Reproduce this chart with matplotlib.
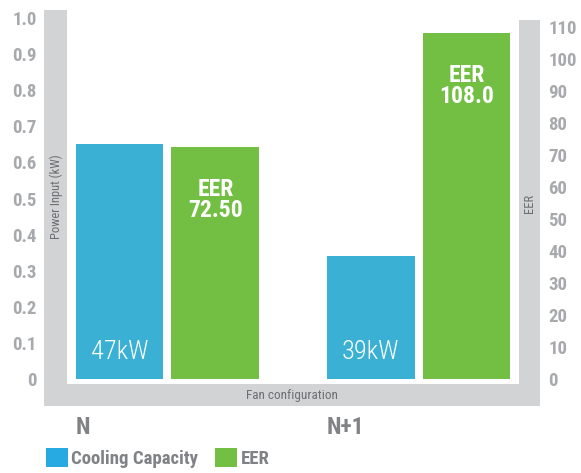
import matplotlib
matplotlib.use("Agg")
import matplotlib.pyplot as plt
import matplotlib.patches as mpatches
import matplotlib.transforms as mtransforms
import numpy as np

plt.rcParams['font.family'] = ['Roboto Condensed', 'Liberation Sans Narrow',
                               'Roboto', 'DejaVu Sans']

# -----------------------------
# Data
# -----------------------------
configs = ["N", "N+1"]
power_input = [0.65, 0.34]          # kW (left axis)
cooling_labels = ["47kW", "39kW"]
eer = [72.50, 108.0]                 # right axis
eer_labels = ["72.50", "108.0"]

left_ticks = np.round(np.arange(0, 1.01, 0.1), 1)
left_ticklabels = ["0"] + [f"{v:.1f}" for v in left_ticks[1:]]
right_ticks = np.arange(0, 111, 10)

# -----------------------------
# Colours
# -----------------------------
BLUE = "#3ab0d4"
BLUE_LEG = "#27a9e1"
GREEN = "#72bf44"
FRAME = "#d1d3d4"
TICK = "#a7a9ac"
DARK = "#808285"
LABEL = "#6d6e71"

W, H = 581, 473
fig = plt.figure(figsize=(W / 100, H / 100), dpi=100)


def fx(px):
    return px / W


def fy(py):
    return 1 - py / H


# grey frame around the plot
for x0, y0, x1, y1 in [(44, 10, 67, 406), (44, 384, 540, 406), (519, 20, 540, 406)]:
    fig.patches.append(mpatches.Rectangle(
        (fx(x0), fy(y1)), fx(x1) - fx(x0), fy(y0) - fy(y1),
        transform=fig.transFigure, color=FRAME, lw=0, zorder=0))

ax = fig.add_axes([fx(67), fy(384), fx(519) - fx(67), fy(10) - fy(384)])
ax2 = ax.twinx()

x = np.arange(len(configs))
w = 0.35
off = 0.191

ax.bar(x - off, power_input, width=w, color=BLUE)
ax2.bar(x + off, eer, width=w, color=GREEN)

ax.set_xlim(-0.4, 1.4)
ax.set_ylim(-5 / 361, 369 / 361)
ax2.set_ylim(-5 / 3.2, 369 / 3.2)

for a in (ax, ax2):
    for s in a.spines.values():
        s.set_visible(False)
    a.set_xticks([])

ax.set_yticks(left_ticks)
ax.set_yticklabels(left_ticklabels)
ax.tick_params(axis="y", length=0, pad=22, labelsize=13.5, labelcolor=TICK)
for t in ax.get_yticklabels():
    t.set_fontweight("bold")

ax2.set_yticks(right_ticks)
ax2.tick_params(axis="y", length=0, pad=21, labelsize=13.5, labelcolor=TICK)
for t in ax2.get_yticklabels():
    t.set_fontweight("bold")

# labels inside bars
for xi, v, lab in zip(x, power_input, cooling_labels):
    ax.text(xi - off, 0.075, lab, ha="center", va="center",
            color="white", fontsize=19, fontweight="light")

for xi, v, lab in zip(x, eer, eer_labels):
    ax2.annotate("EER\n" + lab, (xi + off, v), xytext=(0, -22),
                 textcoords="offset points", ha="center", va="top",
                 color="white", fontsize=17, fontweight="bold",
                 linespacing=0.9)

# axis titles on the grey frame
fig.text(fx(56), fy(197), "Power Input (kW)", rotation=90, ha="center",
         va="center", fontsize=9, color=LABEL)
fig.text(fx(529), fy(203), "EER", rotation=90, ha="center",
         va="center", fontsize=9, color=LABEL)
fig.text(fx(292), fy(395), "Fan configuration", ha="center",
         va="center", fontsize=9.5, color=LABEL)

# category labels
trans = mtransforms.blended_transform_factory(ax.transData, fig.transFigure)
for xi, c in zip(x, configs):
    ax.text(xi - off - w / 2, fy(427), c, transform=trans, ha="left",
            va="center", fontsize=17, fontweight="bold", color=DARK)

# legend
handles = [mpatches.Patch(color=BLUE_LEG, lw=0), mpatches.Patch(color=GREEN, lw=0)]
leg = fig.legend(handles, ["Cooling Capacity", "EER"], ncol=2,
                 loc="center left", bbox_to_anchor=(fx(33), fy(458)),
                 frameon=False, handlelength=1.15, handleheight=1.15,
                 handletextpad=0.2, columnspacing=0.9, borderpad=0.2,
                 prop={"size": 13.5, "weight": "bold"})
for t in leg.get_texts():
    t.set_color(DARK)

fig.savefig("out.png", dpi=100)
